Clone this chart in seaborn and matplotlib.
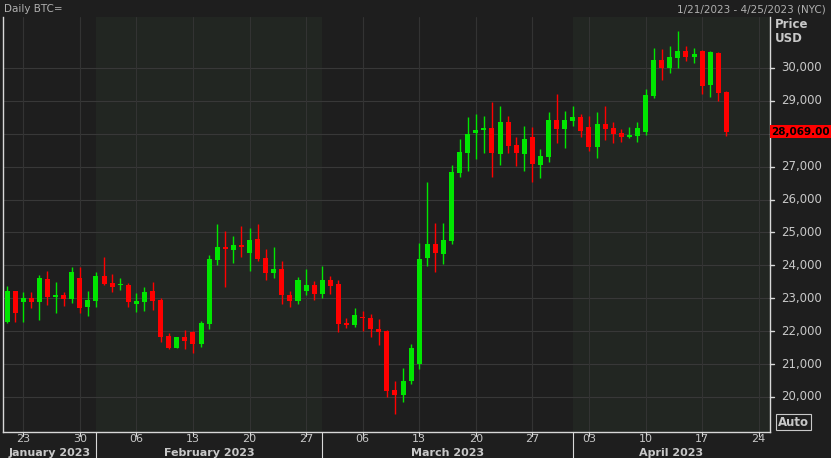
import numpy as np
import pandas as pd
import matplotlib
matplotlib.use("Agg")
import matplotlib.pyplot as plt
import seaborn as sns

dates = pd.date_range("2023-01-21", "2023-04-20", freq="D")
opens = [22280,23220,22890,23010,22890,23590,23040,23100,22980,23620,22730,22920,23680,23460,23400,23400,22830,22890,23220,22950,
         21850,21490,21820,21970,21610,22220,24160,24560,24470,24620,24380,24800,24220,23770,23890,23100,22920,23220,23400,23130,
         23560,23430,22250,22190,22430,22400,22070,22010,20210,20060,20480,21000,24220,24650,24350,24740,26810,27420,28020,28110,
         28170,27390,28360,27660,27390,27900,27050,27300,28420,28150,28390,28510,28210,27600,28300,28180,28020,27900,27930,28050,
         29150,30240,30000,30300,30520,30330,30520,29480,30460,29270]
closes = [23220,22550,23010,22890,23620,23040,23100,22980,23800,22700,22950,23680,23430,23340,23430,22890,22920,23190,22920,21820,
          21490,21820,21700,21610,22250,24190,24560,24500,24620,24560,24770,24190,23770,23890,23100,22920,23560,23400,23130,23560,
          23370,22220,22190,22490,22400,22070,21980,20180,20060,20480,21490,24190,24650,24380,24770,26840,27450,27990,28110,28170,
          27420,28360,27630,27420,27840,27080,27330,28420,28150,28420,28510,28080,27600,28300,28150,27990,27900,27960,28180,29180,
          30240,30000,30330,30520,30330,30430,29450,30490,29240,28069]
highs = [23370,23220,23190,23190,23710,23830,23500,23190,23950,23950,23220,23800,24250,23740,23620,23460,23160,23340,23500,23010,
         21940,21820,22050,22000,22310,24310,25260,25040,24890,25200,25140,25260,24500,24560,24130,23220,23650,23890,23530,23980,
         23680,23560,22400,22710,22620,22520,22380,22040,20480,20880,21610,24680,26530,25290,25290,27050,27840,28510,28600,28540,
         28960,28840,28540,27900,28240,28210,27540,28660,29210,28690,28840,28600,28540,28660,28840,28360,28150,28210,28360,29360,
         30610,30580,30670,31120,30670,30610,30550,30520,30490,29300]
lows = [22250,22280,22280,22700,22340,22800,22550,22770,22860,22550,22460,22730,23400,23190,23250,22730,22580,22610,22640,21670,
        21460,21490,21460,21330,21520,22070,24010,23340,24070,24250,23830,24130,23560,23620,22820,22730,22840,23100,22940,23010,
        23130,21970,22100,22130,22000,21830,21590,20000,19480,19850,20390,20850,23980,23800,24050,24650,26690,26870,27230,27420,
        26690,27050,27420,27020,26870,26530,26650,27140,27720,27570,28240,27900,27480,27260,27810,27720,27750,27870,27750,27960,
        29090,29640,29850,30000,30210,30150,29210,29120,29000,27930]

df = pd.DataFrame({"date": dates, "open": opens, "close": closes, "high": highs, "low": lows})
df["idx"] = (df["date"] - dates[0]).dt.days
df["up"] = df["close"] >= df["open"]

sns.set_theme(style="dark")
plt.rcParams["font.family"] = ["DejaVu Sans"]

BG = "#1e1e1e"
fig = plt.figure(figsize=(8.31, 4.58), dpi=100, facecolor=BG)
ax = fig.add_axes([3/831, 26/458, 767/831, 415/458])
ax.set_facecolor(BG)

x0 = -0.5
x1 = 94.4
Y0, Y1 = 18934, 31550
ax.set_xlim(x0, x1)
ax.set_ylim(Y0, Y1)

for a, b in [(11, 39), (70, x1)]:
    ax.axvspan(a, b, color="#222622", zorder=0, lw=0)

GREEN = "#00e600"
RED = "#ff0000"
cols = np.where(df["up"], GREEN, RED)
ax.vlines(df["idx"], df["low"], df["high"], colors=cols, lw=1, zorder=3)
bottom = np.minimum(df["open"], df["close"])
height = np.maximum(np.abs(df["close"] - df["open"]), 40)
ax.bar(df["idx"], height, bottom=bottom, width=0.62, color=cols, zorder=4, lw=0)

yt = np.arange(20000, 31000, 1000)
for y in yt:
    ax.axhline(y, color="#383838", lw=0.8, zorder=1)
wk = pd.date_range("2023-01-23", "2023-04-24", freq="7D")
wki = [(d - dates[0]).days for d in wk]
for xi in wki:
    ax.axvline(xi, color="#333333", lw=0.8, zorder=1)

ax.set_xticks([])
ax.set_yticks([])
ax.spines["top"].set_visible(False)
for s in ["left", "bottom", "right"]:
    ax.spines[s].set_color("#d8d8d8")
    ax.spines[s].set_linewidth(1)

TXT = "#c8c8c8"
for y in yt:
    ax.plot([x1, x1 + 0.5], [y, y], color="#d8d8d8", lw=1, clip_on=False)
    if y == 28000:
        continue
    ax.annotate(f"{y:,}", xy=(1, y), xycoords=("axes fraction", "data"), xytext=(8, 0),
                textcoords="offset points", va="center", ha="left", color=TXT, fontsize=8.5)
ax.annotate("28,069.00", xy=(1, 28069), xycoords=("axes fraction", "data"), xytext=(1, 0),
            textcoords="offset points", va="center", ha="left", color="black", fontsize=7.5,
            fontweight="bold", bbox=dict(boxstyle="square,pad=0.12", fc=RED, ec="none"))
fig.text(775/831, 1 - 24/458, "Price", color=TXT, fontsize=8.5, fontweight="bold", va="center")
fig.text(775/831, 1 - 39/458, "USD", color=TXT, fontsize=8.5, fontweight="bold", va="center")
fig.text(778/831, 1 - 422/458, "Auto", color=TXT, fontsize=8.5, fontweight="bold", va="center",
         bbox=dict(boxstyle="square,pad=0.15", fc="none", ec=TXT, lw=0.8))

for d, xi in zip(wk, wki):
    ax.annotate(d.strftime("%d"), xy=(xi, 0), xycoords=("data", "axes fraction"), xytext=(0, -5),
                textcoords="offset points", ha="center", va="center", color=TXT, fontsize=8)
    ax.plot([xi, xi], [Y0, Y0 - 120], color="#d8d8d8", lw=0.8, clip_on=False)
months = [("January 2023", -0.5, 11), ("February 2023", 11, 39), ("March 2023", 39, 70), ("April 2023", 70, x1)]
for name, a, b in months:
    ax.annotate(name, xy=((a + b) / 2, 0), xycoords=("data", "axes fraction"), xytext=(0, -15),
                textcoords="offset points", ha="center", va="center", color=TXT, fontsize=8, fontweight="bold")
for a in [11, 39, 70]:
    ax.plot([a, a], [Y0, Y0 - 900], color="#d8d8d8", lw=0.8, clip_on=False)

fig.text(4/831, 1 - 9/458, "Daily BTC=", color="#b0b0b0", fontsize=7.5, va="center")
fig.text(826/831, 1 - 9/458, "1/21/2023 - 4/25/2023 (NYC)", color="#b0b0b0", fontsize=7.5, va="center", ha="right")

fig.savefig("out.png", dpi=100, facecolor=BG)
